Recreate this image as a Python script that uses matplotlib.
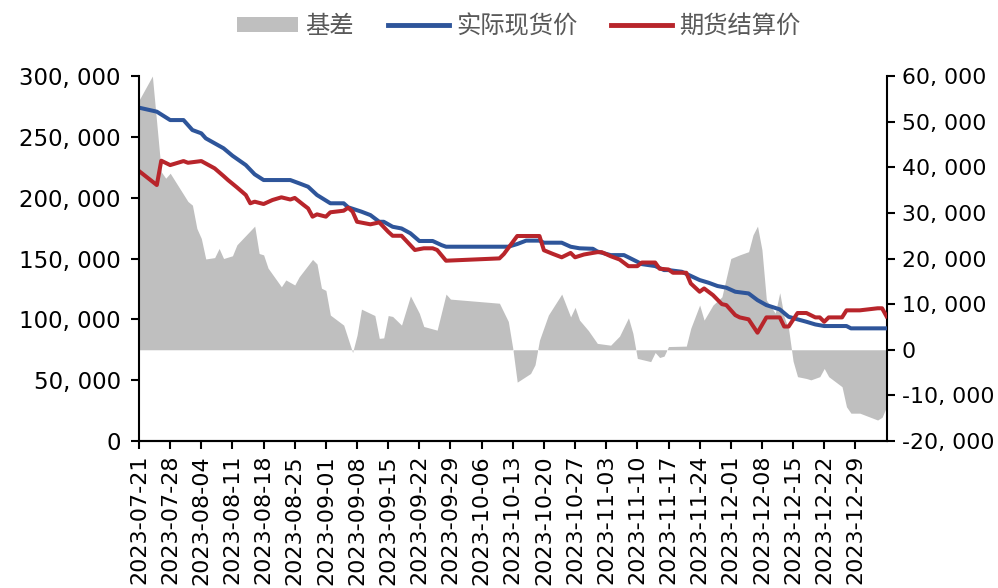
import matplotlib
matplotlib.use("Agg")
import matplotlib.pyplot as plt
import matplotlib.dates as mdates
from matplotlib.ticker import FuncFormatter, MultipleLocator
from matplotlib.patches import Patch
from matplotlib.lines import Line2D
import pandas as pd

# ---------------- data ----------------
spot_dates = ["2023-07-21", "2023-07-25", "2023-07-28", "2023-07-31", "2023-08-02", "2023-08-04",
              "2023-08-05", "2023-08-07", "2023-08-09", "2023-08-11", "2023-08-14", "2023-08-16",
              "2023-08-18", "2023-08-24", "2023-08-26", "2023-08-28", "2023-08-30", "2023-09-02",
              "2023-09-05", "2023-09-06", "2023-09-09", "2023-09-11", "2023-09-13", "2023-09-14",
              "2023-09-16", "2023-09-18", "2023-09-20", "2023-09-22", "2023-09-25", "2023-09-27",
              "2023-09-28", "2023-10-12", "2023-10-14", "2023-10-16", "2023-10-19", "2023-10-20",
              "2023-10-24", "2023-10-26", "2023-10-28", "2023-10-31", "2023-11-01", "2023-11-04",
              "2023-11-07", "2023-11-10", "2023-11-11", "2023-11-14", "2023-11-16", "2023-11-17",
              "2023-11-20", "2023-11-24", "2023-11-26", "2023-11-28", "2023-11-30", "2023-12-02",
              "2023-12-05", "2023-12-07", "2023-12-09", "2023-12-12", "2023-12-14", "2023-12-16",
              "2023-12-18", "2023-12-20", "2023-12-22", "2023-12-27", "2023-12-28", "2024-01-05"]
spot_values = [274000, 270700, 263800, 263800, 255600, 252900,
               248800, 244700, 240600, 234500, 226800, 219200,
               214500, 214500, 211800, 209000, 202200, 195400,
               195400, 192100, 188500, 185700, 180200, 180200,
               176100, 174700, 170700, 164400, 164400, 161000,
               159700, 159700, 161900, 164700, 164700, 163000,
               163000, 159700, 158400, 158000, 155800, 152800,
               152800, 147300, 145400, 143800, 140500, 140500,
               139100, 132300, 130100, 127400, 126000, 122700,
               121300, 115800, 111700, 108200, 102100, 100000,
               98000, 95800, 94500, 94500, 92600, 92600]

fut_dates = ["2023-07-21", "2023-07-25", "2023-07-26", "2023-07-28", "2023-07-31", "2023-08-01",
             "2023-08-04", "2023-08-07", "2023-08-09", "2023-08-10", "2023-08-12", "2023-08-14",
             "2023-08-15", "2023-08-16", "2023-08-18", "2023-08-20", "2023-08-22", "2023-08-24",
             "2023-08-25", "2023-08-27", "2023-08-28", "2023-08-29", "2023-08-30", "2023-09-01",
             "2023-09-02", "2023-09-05", "2023-09-06", "2023-09-07", "2023-09-08", "2023-09-11",
             "2023-09-13", "2023-09-15", "2023-09-16", "2023-09-18", "2023-09-21", "2023-09-23",
             "2023-09-25", "2023-09-26", "2023-09-28", "2023-10-10", "2023-10-11", "2023-10-14",
             "2023-10-19", "2023-10-20", "2023-10-22", "2023-10-24", "2023-10-26", "2023-10-27",
             "2023-10-29", "2023-10-31", "2023-11-01", "2023-11-02", "2023-11-04", "2023-11-06",
             "2023-11-08", "2023-11-10", "2023-11-11", "2023-11-14", "2023-11-15", "2023-11-17",
             "2023-11-18", "2023-11-21", "2023-11-22", "2023-11-24", "2023-11-25", "2023-11-27",
             "2023-11-29", "2023-11-30", "2023-12-02", "2023-12-03", "2023-12-05", "2023-12-07",
             "2023-12-09", "2023-12-12", "2023-12-13", "2023-12-14", "2023-12-16", "2023-12-18",
             "2023-12-20", "2023-12-21", "2023-12-22", "2023-12-23", "2023-12-26", "2023-12-27",
             "2023-12-30", "2024-01-03", "2024-01-04", "2024-01-05"]
fut_values = [221900, 210400, 230400, 226800, 230100, 228700,
              230100, 224100, 217800, 214500, 208500, 202200,
              195400, 196700, 194800, 198100, 200300, 198500,
              199800, 194000, 191200, 184400, 186300, 184400,
              188000, 189300, 191800, 188500, 180200, 178100,
              179700, 172000, 168700, 168700, 157000, 158400,
              158400, 157000, 148200, 150100, 153700, 168500,
              168500, 156800, 153800, 151000, 154600, 151000,
              153300, 154600, 155200, 155200, 151900, 149200,
              143700, 143700, 146700, 146700, 141600, 141000,
              138300, 138300, 129500, 122700, 125400, 119900,
              112500, 111700, 103500, 101600, 100000, 89000,
              101600, 101600, 94100, 94100, 105200, 105200,
              101600, 101600, 98000, 101600, 101600, 107400,
              107400, 109100, 109100, 102500]

basis_dates = ["2023-07-21", "2023-07-24", "2023-07-26", "2023-07-27", "2023-07-28", "2023-08-01",
               "2023-08-02", "2023-08-03", "2023-08-04", "2023-08-05", "2023-08-07", "2023-08-08",
               "2023-08-09", "2023-08-11", "2023-08-12", "2023-08-16", "2023-08-17", "2023-08-18",
               "2023-08-19", "2023-08-22", "2023-08-23", "2023-08-25", "2023-08-26", "2023-08-29",
               "2023-08-30", "2023-08-31", "2023-09-01", "2023-09-02", "2023-09-05", "2023-09-07",
               "2023-09-08", "2023-09-09", "2023-09-12", "2023-09-13", "2023-09-14", "2023-09-15",
               "2023-09-16", "2023-09-18", "2023-09-20", "2023-09-22", "2023-09-23", "2023-09-26",
               "2023-09-28", "2023-09-29", "2023-10-10", "2023-10-12", "2023-10-13", "2023-10-14",
               "2023-10-17", "2023-10-18", "2023-10-19", "2023-10-21", "2023-10-24", "2023-10-26",
               "2023-10-27", "2023-10-28", "2023-10-30", "2023-11-01", "2023-11-04", "2023-11-06",
               "2023-11-08", "2023-11-09", "2023-11-10", "2023-11-13", "2023-11-14", "2023-11-15",
               "2023-11-16", "2023-11-17", "2023-11-21", "2023-11-22", "2023-11-24", "2023-11-25",
               "2023-11-27", "2023-11-29", "2023-12-01", "2023-12-03", "2023-12-05", "2023-12-06",
               "2023-12-07", "2023-12-08", "2023-12-09", "2023-12-11", "2023-12-12", "2023-12-13",
               "2023-12-14", "2023-12-15", "2023-12-16", "2023-12-18", "2023-12-19", "2023-12-21",
               "2023-12-22", "2023-12-23", "2023-12-26", "2023-12-27", "2023-12-28", "2023-12-30",
               "2024-01-03", "2024-01-04", "2024-01-05"]
basis_values = [54700, 60000, 39000, 37600, 38700, 32500,
                31700, 26600, 24400, 19900, 20200, 22200,
                20000, 20600, 23000, 27100, 21100, 20800,
                17900, 13800, 15300, 14200, 16000, 19800,
                18800, 13500, 13000, 7600, 5400, -600,
                3200, 8900, 7500, 2500, 2600, 7500,
                7300, 5400, 11800, 8000, 5100, 4300,
                12200, 11100, 10200, 6200, 300, -7100,
                -5200, -3300, 2100, 7600, 12200, 7200,
                9300, 6500, 4200, 1400, 1000, 3000,
                7000, 3600, -1900, -2600, -600, -1700,
                -1400, 700, 800, 4700, 9800, 6500,
                9800, 11600, 20000, 20800, 21500, 25200,
                27100, 21900, 10900, 8000, 12500, 7200,
                4500, -2500, -5900, -6300, -6600, -5900,
                -4100, -5900, -8100, -12500, -13900, -13900,
                -15400, -14800, -12500]

series_names = ["基差", "实际现货价", "期货结算价"]
x_start, x_end = "2023-07-21", "2024-01-05"
tick_dates = ["2023-07-21", "2023-07-28", "2023-08-04", "2023-08-11", "2023-08-18", "2023-08-25",
              "2023-09-01", "2023-09-08", "2023-09-15", "2023-09-22", "2023-09-29", "2023-10-06",
              "2023-10-13", "2023-10-20", "2023-10-27", "2023-11-03", "2023-11-10", "2023-11-17",
              "2023-11-24", "2023-12-01", "2023-12-08", "2023-12-15", "2023-12-22", "2023-12-29"]

# ---------------- styling ----------------
GRAY = "#BFBFBF"
BLUE = "#2E559A"
RED = "#B8252B"
TXT = "#595959"
plt.rcParams['font.family'] = ['DejaVu Sans', 'Noto Sans CJK SC']

fig = plt.figure(figsize=(9.98, 5.88), dpi=100)
ax1 = fig.add_axes([0.1393, 0.25, 0.7490, 0.6207])
ax2 = ax1.twinx()

sd = pd.to_datetime(spot_dates)
fd = pd.to_datetime(fut_dates)
bd = pd.to_datetime(basis_dates)

ax2.fill_between(bd, basis_values, 0, color=GRAY, linewidth=0)
ax1.plot(sd, spot_values, color=BLUE, lw=2.9, solid_joinstyle='round')
ax1.plot(fd, fut_values, color=RED, lw=2.9, solid_joinstyle='round')

ax1.set_zorder(ax2.get_zorder() + 1)
ax1.patch.set_visible(False)

ax1.set_xlim(pd.Timestamp(x_start), pd.Timestamp(x_end))
ax1.set_ylim(0, 300000)
ax2.set_ylim(-20000, 60000)
ax1.yaxis.set_major_locator(MultipleLocator(50000))
ax2.yaxis.set_major_locator(MultipleLocator(10000))
fmt = FuncFormatter(lambda v, p: f"{v:,.0f}".replace(",", ", "))
ax1.yaxis.set_major_formatter(fmt)
ax2.yaxis.set_major_formatter(fmt)

ax1.set_xticks(pd.to_datetime(tick_dates))
ax1.xaxis.set_major_formatter(mdates.DateFormatter("%Y-%m-%d"))

for ax in (ax1, ax2):
    ax.spines['top'].set_visible(False)
    for s in ('left', 'right', 'bottom'):
        ax.spines[s].set_linewidth(1.5)
        ax.spines[s].set_color('black')
ax1.spines['right'].set_visible(False)
ax2.spines['left'].set_visible(False)

ax1.tick_params(axis='y', direction='out', length=6, width=1.5, labelsize=16.5, pad=7, colors='black')
ax2.tick_params(axis='y', direction='out', length=6, width=1.5, labelsize=15.8, pad=5, colors='black')
ax1.tick_params(axis='x', direction='out', length=6, width=1.5, labelsize=16, pad=4,
                labelrotation=90, colors='black')
ax2.tick_params(axis='x', bottom=False, labelbottom=False)

handles = [Patch(facecolor=GRAY, edgecolor='none'),
           Line2D([0], [0], color=BLUE, lw=3.5),
           Line2D([0], [0], color=RED, lw=3.5)]
leg = fig.legend(handles, series_names, loc='upper center', bbox_to_anchor=(0.52, 1.015),
                 ncol=3, frameon=False, handlelength=2.5, handleheight=0.55, handletextpad=0.3,
                 columnspacing=1.4, prop={'family': ['Noto Sans CJK SC'], 'size': 17.5})
for t in leg.get_texts():
    t.set_color(TXT)

fig.savefig("out.png", dpi=100)
